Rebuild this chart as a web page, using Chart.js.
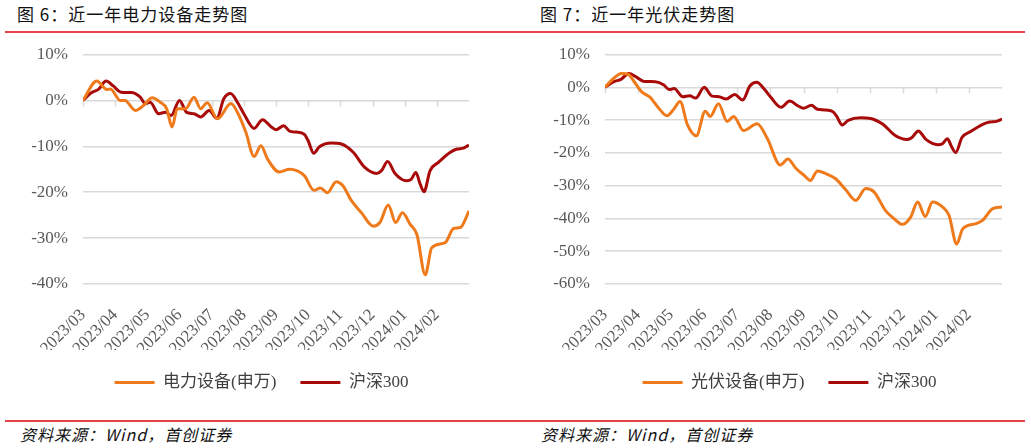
<!DOCTYPE html>
<html>
<head>
  <meta charset="utf-8">
  <title>近一年电力设备 / 光伏走势图</title>
  <script src="https://cdn.jsdelivr.net/npm/chart.js@4.4.1/dist/chart.umd.min.js"></script>
  <style>
    body { margin: 0; background: #fff; width: 1031px; height: 448px; position: relative; overflow: hidden;
           font-family: 'Noto Sans CJK SC', sans-serif; }
    .title { position: absolute; top: 4px; font-size: 17px; letter-spacing: 1px; color: #111; line-height: 20px; white-space: nowrap; }
    .rule { position: absolute; background: #e4414a; }
    .src { position: absolute; top: 424px; font-size: 16px; font-style: italic; letter-spacing: 1px; color: #111; line-height: 20px; white-space: nowrap; }
    .box { position: absolute; top: 36px; height: 380px; }
  </style>
</head>
<body>
  <div class="title" style="left:17px;">图 6：近一年电力设备走势图</div>
  <div class="title" style="left:540px;">图 7：近一年光伏走势图</div>
  <div class="rule" style="left:5px; top:31px; width:1020px; height:2px;"></div>
  <div class="rule" style="left:5px; top:420px; width:1020px; height:1.5px;"></div>
  <div class="src" style="left:20px;">资料来源：Wind，首创证券</div>
  <div class="src" style="left:541px;">资料来源：Wind，首创证券</div>

  <div class="box" style="left:0; width:520px;"><canvas id="chartPower"></canvas></div>
  <div class="box" style="left:520px; width:511px;"><canvas id="chartPv"></canvas></div>

  <script>
    // month labels on the x axis (x value 0 = 2023/03 ... 11 = 2024/02)
    const months = ['2023/03', '2023/04', '2023/05', '2023/06', '2023/07', '2023/08',
                    '2023/09', '2023/10', '2023/11', '2023/12', '2024/01', '2024/02'];

    // 沪深300, cumulative %, x in months from 2023/03
    const hs300X = [0, 0.27, 0.48, 0.72, 0.95, 1.18, 1.52, 1.78, 1.94, 2.09, 2.35, 2.56, 2.74, 3.0, 3.22, 3.45,
                    3.66, 3.92, 4.16, 4.38, 4.59, 4.8, 5.0, 5.32, 5.58, 5.84, 6.0, 6.24, 6.42, 6.63, 6.88, 7.0,
                    7.17, 7.35, 7.72, 8.03, 8.4, 8.76, 9.13, 9.28, 9.47, 9.7, 10.06, 10.2, 10.35, 10.48, 10.6,
                    10.79, 11.05, 11.42, 11.63, 11.83, 12.0];
    const hs300Y = [0, 1.7, 2.4, 4.2, 3.1, 1.8, 1.7, 0.7, -0.7, -0.4, -2.9, -2.6, -3.3, 0, -2.6, -2.9,
                    -3.6, -2.2, -3.9, 0.4, 1.5, -0.4, -2.9, -6.1, -4.2, -5.7, -6.4, -5.5, -6.7, -6.9, -7.4, -8.8,
                    -11.5, -10.1, -9.3, -9.5, -11.3, -14.6, -15.9, -15.3, -13.3, -15.9, -17.5, -17.2, -15.7, -18.2, -19.9,
                    -15.3, -13.5, -11.3, -10.6, -10.4, -9.7];

    // 电力设备(申万)
    const powerX = [0, 0.43, 0.74, 0.85, 1.16, 1.3, 1.63, 1.88, 2.15, 2.4, 2.6, 2.77, 2.93, 3.19, 3.45, 3.66,
                    3.86, 4.18, 4.6, 4.8, 5.06, 5.32, 5.53, 5.74, 6.1, 6.42, 6.88, 7.18, 7.38, 7.6, 7.87, 8.08,
                    8.34, 8.66, 9.02, 9.23, 9.49, 9.72, 9.93, 10.17, 10.38, 10.64, 10.84, 11.26, 11.52, 11.73, 12.0];
    const powerY = [0, 4.2, 2.4, 2.5, 0, 0, -2.2, -1.1, 0.6, -0.4, -1.8, -5.8, -1.8, -1.8, 0.7, -1.8,
                    -0.5, -4.0, -0.7, -2.6, -6.9, -12.2, -9.9, -12.8, -15.6, -15.0, -16.4, -19.6, -19.1, -20.1, -17.7, -18.6,
                    -21.8, -24.5, -27.4, -26.6, -22.8, -26.6, -24.5, -27.0, -29.2, -38.0, -32.1, -31.0, -27.9, -27.7, -24.1];

    // 光伏设备(申万)
    const pvX = [0, 0.25, 0.5, 0.71, 0.91, 1.11, 1.36, 1.62, 1.87, 2.07, 2.27, 2.49, 2.76, 3.03, 3.18, 3.43,
                 3.69, 3.89, 4.19, 4.6, 4.9, 5.3, 5.53, 5.76, 6.01, 6.21, 6.42, 6.67, 6.97, 7.27, 7.58, 7.88,
                 8.13, 8.48, 8.74, 8.99, 9.24, 9.45, 9.68, 9.9, 10.2, 10.4, 10.63, 10.81, 11.21, 11.41, 11.72, 12.0];
    const pvY = [0, 2.6, 4.2, 3.9, 1.3, -1.4, -3.0, -6.3, -8.7, -6.8, -4.3, -11.4, -14.8, -7.3, -8.9, -5.0,
                 -10.4, -8.9, -13.2, -11.1, -15.5, -23.7, -21.9, -24.6, -26.8, -28.4, -25.5, -26.3, -27.9, -31.2, -34.5, -30.9,
                 -31.9, -37.6, -40.1, -41.8, -39.6, -35.0, -39.4, -35.0, -36.5, -39.1, -47.8, -43.2, -41.6, -40.6, -37.0, -36.5];

    const ORANGE = '#ef7a1c';
    const DARKRED = '#a80a0a';
    const GRID = '#d9d9d9';
    const SERIF = "'Liberation Serif', 'Noto Sans CJK SC', serif";

    function pts(xs, ys) {
      return xs.map((x, i) => ({ x: x, y: ys[i] }));
    }

    // small tick marks hanging under the 0% line, like the Excel axis
    const tickMarks = {
      id: 'tickMarks',
      beforeDatasetsDraw(chart) {
        const xs = chart.scales.x, ys = chart.scales.y, ctx = chart.ctx;
        const y0 = ys.getPixelForValue(0);
        ctx.save();
        ctx.strokeStyle = GRID;
        ctx.lineWidth = 1.5;
        ctx.beginPath();
        for (let i = 0; i < months.length; i++) {
          const px = Math.round(xs.getPixelForValue(i)) + 0.5;
          ctx.moveTo(px, y0);
          ctx.lineTo(px, y0 + 6);
        }
        ctx.stroke();
        ctx.restore();
      }
    };

    // legend in the original is not centred on the canvas, nudge it sideways
    const legendShift = {
      id: 'legendShift',
      afterLayout(chart, args, opts) {
        chart.legend.left += opts.dx;
        chart.legend.right += opts.dx;
      }
    };

    function makeChart(id, name, xs, ys, yMin, pad, dx) {
      return new Chart(document.getElementById(id), {
        type: 'line',
        data: {
          datasets: [
            { label: name, data: pts(xs, ys), borderColor: ORANGE, backgroundColor: ORANGE },
            { label: '沪深300', data: pts(hs300X, hs300Y), borderColor: DARKRED, backgroundColor: DARKRED }
          ]
        },
        options: {
          responsive: true,
          maintainAspectRatio: false,
          animation: false,
          layout: { padding: pad },
          elements: {
            line: { borderWidth: 3, tension: 0.35, cubicInterpolationMode: 'monotone' },
            point: { radius: 0 }
          },
          scales: {
            x: {
              type: 'linear', min: 0, max: 12,
              grid: { display: false },
              border: { display: false },
              ticks: {
                stepSize: 1, autoSkip: false, maxRotation: 45, minRotation: 45,
                color: '#595959', font: { family: SERIF, size: 17 }, padding: 13,
                callback: v => months[v] || ''
              },
              afterFit: s => { s.height = 66; }
            },
            y: {
              min: yMin, max: 10,
              grid: { color: GRID, lineWidth: 1.5, drawTicks: false },
              border: { display: false },
              ticks: {
                stepSize: 10, padding: 15,
                color: '#595959', font: { family: SERIF, size: 17 },
                callback: v => v + '%'
              },
              afterFit: s => {
                s.width = pad.yw;
                // tick padding would otherwise push the plot down
                s.paddingTop = 0;
                s.paddingBottom = 0;
              }
            }
          },
          plugins: {
            tooltip: { enabled: false },
            legendShift: { dx: dx },
            legend: {
              position: 'bottom',
              labels: {
                boxWidth: 40, boxHeight: 3, padding: 24,
                color: '#404040', font: { family: SERIF, size: 17 },
                generateLabels: chart => Chart.defaults.plugins.legend.labels.generateLabels(chart)
                  .map(l => Object.assign(l, { lineWidth: 0, fillStyle: l.strokeStyle }))
              }
            }
          }
        },
        plugins: [tickMarks, legendShift]
      });
    }

    makeChart('chartPower', '电力设备(申万)', powerX, powerY, -40,
              { left: 0, right: 51, top: 18.5, bottom: 15, yw: 83 }, 27);
    makeChart('chartPv', '光伏设备(申万)', pvX, pvY, -60,
              { left: 0, right: 29, top: 18.5, bottom: 15, yw: 85 }, 28.5);
  </script>
</body>
</html>
